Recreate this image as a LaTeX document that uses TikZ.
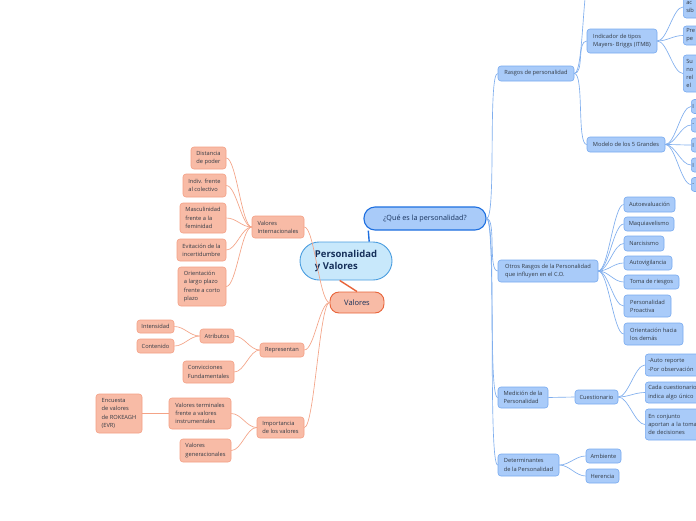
\documentclass[tikz,border=0pt]{standalone}
\usepackage{fontspec}
\setmainfont{Open Sans}
\definecolor{bfill}{HTML}{A9CBF9}
\definecolor{bdraw}{HTML}{78AAF0}
\definecolor{bline}{HTML}{7FAEEE}
\definecolor{bdark}{HTML}{1D6FE0}
\definecolor{ofill}{HTML}{F8BBA6}
\definecolor{odraw}{HTML}{F4A085}
\definecolor{oline}{HTML}{F4A386}
\definecolor{odark}{HTML}{E8643A}
\definecolor{cfill}{HTML}{C8E8FB}
\definecolor{cdraw}{HTML}{4A9DDF}
\definecolor{navy}{HTML}{16305A}
\definecolor{txt}{HTML}{333B45}
\tikzset{
  base/.style={rounded corners=3pt, line width=0.6pt, align=left, inner xsep=3pt, inner ysep=1pt,
    font=\fontsize{5.7}{8.2}\selectfont, text=txt},
  bb/.style={base, fill=bfill, draw=bdraw},
  ob/.style={base, fill=ofill, draw=odraw},
  cut/.style={text width=70pt},
  bl/.style={draw=bline, line width=0.65pt},
  ol/.style={draw=oline, line width=0.65pt},
  rt/.style={out=0,in=180,out distance=10pt,in distance=10pt},
  lt/.style={out=180,in=0,out distance=10pt,in distance=10pt},
}
\begin{document}
\begin{tikzpicture}[x=1pt,y=-1pt]
\useasboundingbox (0,0) rectangle (696,520);
\clip (0,0) rectangle (696,520);
\fill[white] (0,0) rectangle (696,520);

% central
\node[draw=cdraw, fill=cfill, line width=0.9pt, rounded corners=19pt, minimum width=92pt, minimum height=38pt,
  align=left, text=navy, font=\fontsize{9.5}{12.5}\selectfont\bfseries] (cen) at (346,261) {Personalidad\\ y Valores};
\node[draw=bdark, fill=bfill, line width=1.1pt, rounded corners=11pt, minimum width=122pt, minimum height=23pt,
  text=navy, font=\fontsize{7.2}{9}\selectfont] (que) at (425,218.5) {¿Qué es la personalidad?};
\node[draw=odark, fill=ofill, line width=0.9pt, rounded corners=9pt, minimum width=54pt, minimum height=21pt,
  text=navy, font=\fontsize{7.5}{9}\selectfont] (val) at (357,302.5) {Valores};

% right side blue
\node[bb, minimum width=76pt, minimum height=15pt] (rasgos) at (536,73.5) {Rasgos de personalidad};
\coordinate (rtop) at (592,-30);
\node[bb, minimum width=70pt, minimum height=24pt] (itmb) at (622,41) {Indicador de tipos\\Mayers- Briggs (ITMB)};
\node[bb, minimum width=78pt, minimum height=15pt] (modelo) at (626,144.5) {Modelo de los 5 Grandes};
\node[bb, cut, minimum height=22pt, anchor=west] (it1) at (683,7) {ac\\sib};
\node[bb, cut, minimum height=19pt, anchor=west] (it2) at (683,35.5) {Pre\\pe};
\node[bb, cut, minimum height=37pt, anchor=west] (it3) at (683,73.5) {Su\\no\\rel\\el};
\tikzset{mb/.style={bb, cut, minimum height=14pt, anchor=west, inner xsep=1pt}}
\node[mb] (m1) at (691,106.5) {I};
\node[mb] (m2) at (691,125) {-};
\node[mb] (m3) at (691,145) {I};
\node[mb] (m4) at (691,165) {I};
\node[mb] (m5) at (691,184.5) {-};

\node[bb, minimum width=100pt, minimum height=22pt] (otros) at (548,271) {Otros Rasgos de la Personalidad\\que influyen en el C.O.};
\node[bb, minimum width=51pt, minimum height=15pt] (o1) at (649.5,204.5) {Autoevaluación};
\node[bb, minimum width=50pt, minimum height=14pt] (o2) at (649,224) {Maquiavelismo};
\node[bb, minimum width=40pt, minimum height=15pt] (o3) at (644,243.5) {Narcisismo};
\node[bb, minimum width=48pt, minimum height=14pt] (o4) at (648,263) {Autovigilancia};
\node[bb, minimum width=55pt, minimum height=14pt] (o5) at (651.5,282) {Toma de riesgos};
\node[bb, minimum width=47pt, minimum height=22pt] (o6) at (647.5,306) {Personalidad\\Proactiva};
\node[bb, minimum width=59pt, minimum height=22pt] (o7) at (653.5,334) {Orientación hacia\\los demás};

\node[bb, minimum width=50pt, minimum height=21pt] (medi) at (523,397.5) {Medición de la\\Personalidad};
\node[bb, minimum width=43pt, minimum height=14pt] (cues) at (596.5,397) {Cuestionario};
\node[bb, cut, minimum height=22pt, anchor=west] (c1) at (645,365) {-Auto reporte\\-Por observación};
\node[bb, cut, minimum height=21pt, anchor=west] (c2) at (645,392.5) {Cada cuestionario\\indica algo único};
\node[bb, cut, minimum height=31pt, anchor=west] (c3) at (645,424.5) {En conjunto\\ aportan a la toma\\de decisiones};

\node[bb, minimum width=61pt, minimum height=22pt] (det) at (528.5,465) {Determinantes\\ de la Personalidad};
\node[bb, minimum width=35pt, minimum height=14pt] (amb) at (603.5,456) {Ambiente};
\node[bb, minimum width=33pt, minimum height=14pt] (her) at (602.5,476) {Herencia};

% left side orange
\node[ob, minimum width=52pt, minimum height=22pt] (valint) at (278,227) {Valores\\Internacionales};
\node[ob, minimum width=35pt, minimum height=22pt] (v1) at (208.5,158) {Distancia\\de poder};
\node[ob, minimum width=43pt, minimum height=23pt] (v2) at (204.5,185.5) {Indiv. frente\\al colectivo};
\node[ob, minimum width=46pt, minimum height=30pt] (v3) at (203,218) {Masculinidad\\frente a la\\feminidad};
\node[ob, minimum width=49pt, minimum height=22pt] (v4) at (201.5,250) {Evitación de la\\incertidumbre};
\node[ob, minimum width=48pt, minimum height=39pt] (v5) at (202,286.5) {Orientación\\ a largo plazo\\frente a corto\\plazo};

\node[ob, minimum width=44pt, minimum height=14pt] (repr) at (282,350) {Representan};
\node[ob, minimum width=34pt, minimum height=14pt] (atrib) at (217,336) {Atributos};
\node[ob, minimum width=37pt, minimum height=13pt] (inten) at (155.5,326.5) {Intensidad};
\node[ob, minimum width=37pt, minimum height=14pt] (conte) at (155.5,346) {Contenido};
\node[ob, minimum width=51pt, minimum height=22pt] (conv) at (208.5,372) {Convicciones\\Fundamentales};

\node[ob, minimum width=47pt, minimum height=21pt] (impo) at (280.5,427.5) {Importancia\\de los valores};
\node[ob, minimum width=62pt, minimum height=31pt] (vterm) at (200,413.5) {Valores terminales\\frente a valores\\instrumentales};
\node[ob, minimum width=51pt, minimum height=23pt] (vgen) at (205.5,450.5) {Valores\\generacionales};
\node[ob, minimum width=46pt, minimum height=39pt] (encu) at (119,413.5) {Encuesta\\de valores\\ de ROKEAGH\\(EVR)};

% main connectors
\draw[draw=bdark, line width=1.4pt] (cen.40) -- (que.192);
\draw[draw=odark, line width=1.4pt] (cen.252) -- (val.north);

% blue connectors
\foreach \c in {rasgos,otros,medi,det} \draw[bl] (que.east) to[rt] (\c.west);
\draw[bl] (rasgos.east) to[rt] (rtop);
\draw[bl] (rasgos.east) to[rt] (itmb.west);
\draw[bl] (rasgos.east) to[rt] (modelo.west);
\foreach \c in {it1,it2,it3} \draw[bl] (itmb.east) to[rt] (\c.west);
\foreach \c in {m1,m2,m3,m4,m5} \draw[bl] (modelo.east) to[rt] (\c.west);
\foreach \c in {o1,o2,o3,o4,o5,o6,o7} \draw[bl] (otros.east) to[rt] (\c.west);
\draw[bl] (medi.east) -- (cues.west);
\foreach \c in {c1,c2,c3} \draw[bl] (cues.east) to[rt] (\c.west);
\foreach \c in {amb,her} \draw[bl] (det.east) to[rt] (\c.west);

% orange connectors
\foreach \c in {valint,repr,impo} \draw[ol] (val.west) to[lt] (\c.east);
\foreach \c in {v1,v2,v3,v4,v5} \draw[ol] (valint.west) to[lt] (\c.east);
\foreach \c in {atrib,conv} \draw[ol] (repr.west) to[lt] (\c.east);
\foreach \c in {inten,conte} \draw[ol] (atrib.west) to[lt] (\c.east);
\foreach \c in {vterm,vgen} \draw[ol] (impo.west) to[lt] (\c.east);
\draw[ol] (vterm.west) -- (encu.east);
\end{tikzpicture}
\end{document}
